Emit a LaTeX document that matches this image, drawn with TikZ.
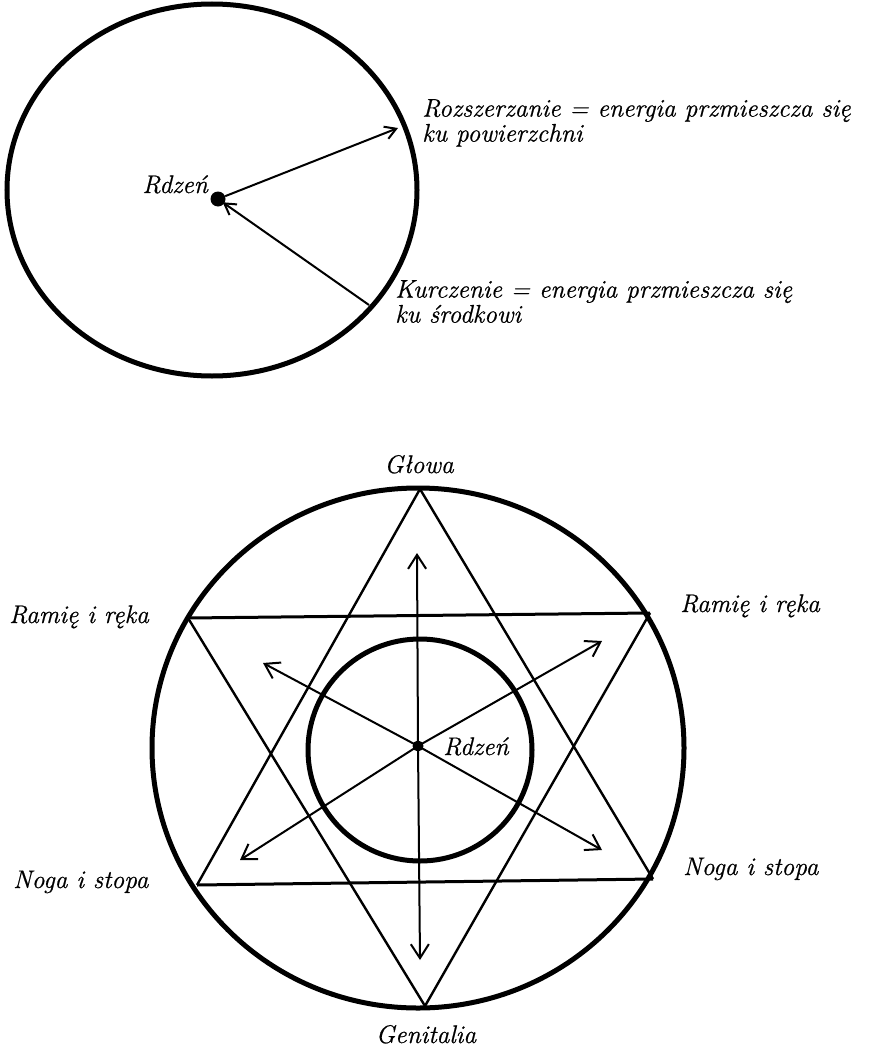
\documentclass[tikz,border=0pt]{standalone}
\usepackage{fontspec}
\newfontfamily\lblfont{Latin Modern Roman}[FakeBold=0.7, ItalicFeatures={FakeBold=0.7}]
\usetikzlibrary{arrows.meta}
\begin{document}
\begin{tikzpicture}[x=1pt,y=-1pt,
  lbl/.style={font=\lblfont\itshape\fontsize{25.5}{25}\selectfont, inner sep=0pt, align=left},
  rim/.style={line width=5pt},
  starline/.style={line width=2.4pt},
  hline/.style={line width=3pt},
  ray/.style={line width=2pt, -{Straight Barb[length=14pt,width=18pt,line width=2pt]}},
  smallray/.style={line width=2pt, -{Straight Barb[length=11pt,width=13pt,line width=2pt]}},
  coredot/.style={circle, fill=black, inner sep=0pt, minimum size=#1}]
\useasboundingbox (0,0) rectangle (876,1052);

% ---------- top diagram ----------
\draw[rim] (212,190) ellipse [x radius=205pt, y radius=186pt];
\node[coredot=15pt] (core1) at (218,199) {};
\coordinate (surf1) at (398,128);
\coordinate (surf2) at (369,305);
\draw[smallray] (core1) -- (surf1);
\draw[smallray, shorten >=-2pt] (surf2) -- (core1);
\node[lbl, anchor=base east] (rdzen1) at (208,193) {Rdzeń};
\node[lbl, anchor=north west] (rozs) at (422,99) {Rozszerzanie = energia przmieszcza się\\ku powierzchni};
\node[lbl, anchor=north west] (kurcz) at (395,280) {Kurczenie = energia przmieszcza się\\ku środkowi};

% ---------- bottom diagram ----------
\draw[rim] (418,748) ellipse [x radius=266pt, y radius=260pt];
\draw[rim] (420,750) ellipse [x radius=112pt, y radius=111pt];

\coordinate (top) at (420,489);
\coordinate (bot) at (425,1006);
\coordinate (ul) at (188,618);
\coordinate (ur) at (650,613);
\coordinate (ll) at (197,885);
\coordinate (lr) at (653,879);
\draw[starline] (top) -- (ll) (top) -- (lr);
\draw[starline] (ul) -- (bot) -- (ur);
\draw[hline] (ul) -- (ur);
\draw[hline] (ll) -- (lr);

\node[coredot=11pt] (core2) at (418,746) {};
\coordinate (tipU) at (417,553);
\coordinate (tipD) at (420,960);
\coordinate (tipUL) at (263,663);
\coordinate (tipUR) at (602,641);
\coordinate (tipLL) at (240,860);
\coordinate (tipLR) at (602,850);
\foreach \t in {tipU,tipD,tipUL,tipUR,tipLL,tipLR}
  \draw[ray] (core2.center) -- (\t);

\node[lbl, anchor=base] (glowa) at (419,473) {Głowa};
\node[lbl, anchor=base] (genit) at (426,1043) {Genitalia};
\node[lbl, anchor=base west] (ramL) at (9,623) {Ramię i ręka};
\node[lbl, anchor=base west] (ramR) at (680,612) {Ramię i ręka};
\node[lbl, anchor=base west] (nogaL) at (13,888) {Noga i stopa};
\node[lbl, anchor=base west] (nogaR) at (683,875) {Noga i stopa};
\node[lbl, anchor=base west] (rdzen2) at (443,755) {Rdzeń};
\end{tikzpicture}
\end{document}
